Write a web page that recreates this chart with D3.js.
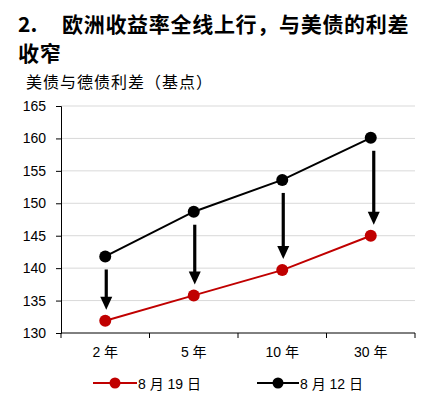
<!DOCTYPE html>
<html>
<head>
<meta charset="utf-8">
<script src="https://cdn.jsdelivr.net/npm/d3@7"></script>
<style>
  body { margin: 0; background: #fff; }
  svg { display: block; }
  text { font-family: "Liberation Sans", Arial, "Noto Sans CJK SC", sans-serif; }
  .cjk { font-family: "Noto Sans CJK SC", sans-serif; }
</style>
</head>
<body>
<svg id="chart" width="438" height="405"></svg>
<script>
// tenors on the x axis
const tenors = ["2 年", "5 年", "10 年", "30 年"];
// spread in bp
const aug19 = [131.9, 135.8, 139.7, 145.0];
const aug12 = [141.8, 148.7, 153.6, 160.1];
const yTicks = [130, 135, 140, 145, 150, 155, 160, 165];
const seriesNames = ["8 月 19 日", "8 月 12 日"];

const svg = d3.select("#chart");

// titles
svg.append("text").attr("x", 18).attr("y", 32)
  .attr("font-size", 21).attr("font-weight", "bold")
  .style("font-family", "'Noto Sans CJK SC', sans-serif")
  .text("2.");
svg.append("text").attr("x", 62).attr("y", 32)
  .attr("class", "cjk").attr("font-size", 21).attr("font-weight", "bold")
  .attr("letter-spacing", 0.7)
  .text("欧洲收益率全线上行，与美债的利差");
svg.append("text").attr("x", 18).attr("y", 61)
  .attr("class", "cjk").attr("font-size", 21).attr("font-weight", "bold")
  .attr("letter-spacing", 0.7)
  .text("收窄");
svg.append("text").attr("x", 26).attr("y", 88)
  .attr("class", "cjk").attr("font-size", 16)
  .attr("letter-spacing", 1)
  .text("美债与德债利差（基点）");

// plot area
const plotL = 61, plotR = 415, plotT = 106, plotB = 333;

const x = d3.scaleBand().domain(tenors).range([plotL, plotR]);
const y = d3.scaleLinear().domain([130, 165]).range([plotB, plotT]);

// gridlines
svg.append("g").selectAll("line")
  .data(yTicks.slice(1))
  .enter().append("line")
  .attr("x1", plotL).attr("x2", plotR)
  .attr("y1", d => y(d)).attr("y2", d => y(d))
  .attr("stroke", "#d9d9d9").attr("stroke-width", 1);

// y axis
const yAxis = svg.append("g")
  .attr("transform", `translate(${plotL},0)`)
  .call(d3.axisLeft(y).tickValues(yTicks).tickSize(5).tickPadding(10));
yAxis.selectAll("text").attr("font-size", 14).attr("fill", "#000")
  .style("font-family", "'Liberation Sans', Arial, sans-serif");
yAxis.selectAll("path, line").attr("stroke", "#000");

// x axis, ticks sit on the band edges
const xAxis = svg.append("g").attr("transform", `translate(0,${plotB})`);
xAxis.append("line").attr("x1", plotL).attr("x2", plotR)
  .attr("stroke", "#000");
const edges = tenors.map(t => x(t)).concat([x(tenors[tenors.length - 1]) + x.bandwidth()]);
xAxis.selectAll(".edge").data(edges).enter().append("line")
  .attr("x1", d => d).attr("x2", d => d)
  .attr("y1", 0).attr("y2", 5).attr("stroke", "#000");
xAxis.selectAll(".lbl").data(tenors).enter().append("text")
  .attr("x", d => x(d) + x.bandwidth() / 2).attr("y", 24)
  .attr("text-anchor", "middle").attr("font-size", 14)
  .text(d => d);

const cx = d => x(d) + x.bandwidth() / 2;

// arrows from 8/12 down to 8/19
const ax = i => cx(tenors[i]) + (i === 3 ? 3 : 1);
svg.append("g").selectAll("line")
  .data(tenors)
  .enter().append("line")
  .attr("x1", (d, i) => ax(i)).attr("x2", (d, i) => ax(i))
  .attr("y1", (d, i) => y(aug12[i]) + 13)
  .attr("y2", (d, i) => y(aug19[i]) - 20)
  .attr("stroke", "#000").attr("stroke-width", 3.2);
svg.append("g").selectAll("path")
  .data(tenors)
  .enter().append("path")
  .attr("d", (d, i) => {
    const tip = y(aug19[i]) - 11;
    return `M${ax(i) - 6},${tip - 13} L${ax(i) + 6},${tip - 13} L${ax(i)},${tip} Z`;
  })
  .attr("fill", "#000");

const line = d3.line().x((d, i) => cx(tenors[i])).y(d => y(d));

function drawSeries(vals, color) {
  svg.append("path").datum(vals)
    .attr("d", line).attr("fill", "none")
    .attr("stroke", color).attr("stroke-width", 2);
  svg.append("g").selectAll("circle")
    .data(vals).enter().append("circle")
    .attr("cx", (d, i) => cx(tenors[i])).attr("cy", d => y(d))
    .attr("r", 6).attr("fill", color);
}
drawSeries(aug12, "#000");
drawSeries(aug19, "#c00000");

// legend
const legend = svg.append("g").attr("transform", "translate(0,383)");
const legendItems = [
  { name: seriesNames[0], color: "#c00000", x0: 93, x1: 137 },
  { name: seriesNames[1], color: "#000", x0: 257, x1: 299 }
];
legendItems.forEach(it => {
  legend.append("line").attr("x1", it.x0).attr("x2", it.x1)
    .attr("stroke", it.color).attr("stroke-width", 2);
  legend.append("circle").attr("cx", (it.x0 + it.x1) / 2).attr("cy", 0)
    .attr("r", 5.5).attr("fill", it.color);
  legend.append("text").attr("x", it.x1 + 1).attr("y", 5.5)
    .attr("font-size", 14).text(it.name);
});
</script>
</body>
</html>
